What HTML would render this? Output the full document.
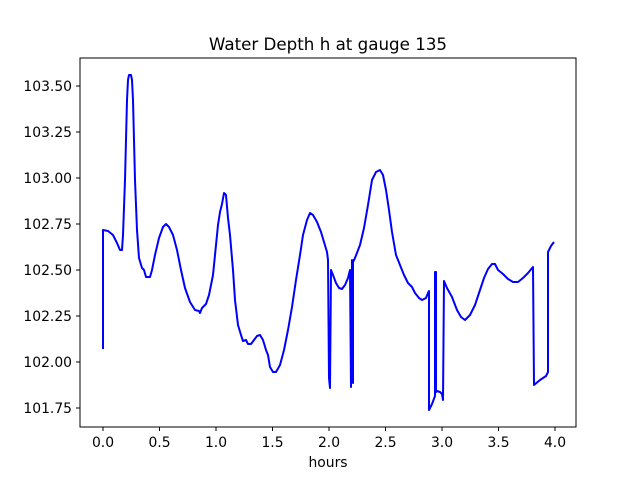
<!DOCTYPE html>
<html><head><meta charset="utf-8"><style>body{margin:0;background:#fff}</style></head><body>
<svg width="640" height="480" xmlns="http://www.w3.org/2000/svg" font-family="DejaVu Sans, Liberation Sans, sans-serif">
<rect width="640" height="480" fill="#fff"/>
<text x="328" y="50" font-size="16.7" text-anchor="middle">Water Depth h at gauge 135</text>
<polyline fill="none" stroke="#0000ff" stroke-width="2" stroke-linejoin="round" points="103,349 103,230 108,231 113,235 117,243 120,250 122,250 123,235 125,180 127,100 128,80 129,75 131,75 132,80 133,100 135,180 137,230 139,258 142,268 144,270 146,277 150,277 152,270 155,255 159,238 163,227 166,224 169,227 173,235 177,250 181,270 185,288 190,302 195,310 199,311 200,313 202,308 206,304 209,295 213,275 216,245 218,225 220,212 222,204 224,193 226,195 228,218 230,235 233,270 235,300 238,325 241,335 243,341 246,340 248,344 251,344 254,340 257,336 260,335 263,340 266,350 268,355 270,367 273,372 276,372 280,365 284,350 288,330 292,307 296,280 300,255 303,235 307,220 310,213 313,215 317,222 321,232 324,242 327,252 328,260 329,378 330,388 331,270 333,275 336,283 339,288 342,289 345,285 348,278 350,270 351,387 352,260 353,383 353,262 355,258 360,245 364,228 368,205 372,180 376,172 380,170 383,175 386,190 389,210 392,232 396,255 400,265 404,275 408,283 412,287 415,293 419,298 422,300 426,298 428,293 429,291 429,410 432,404 435,396 435,272 436,272 436,392 437,391 440,392 442,394 443,400 444,281 447,288 452,297 457,310 461,317 465,320 470,315 475,305 480,290 484,278 488,269 492,264 495,264 498,270 503,274 508,279 513,282 518,282 523,278 528,273 533,267 534,385 540,380 546,376 548,372 548,252 551,246 554,242"/>
<rect x="80" y="58" width="496" height="369" fill="none" stroke="#000" stroke-width="1"/>
<g stroke="#000" stroke-width="1">
<line x1="103" y1="427" x2="103" y2="431"/><line x1="159.5" y1="427" x2="159.5" y2="431"/><line x1="216" y1="427" x2="216" y2="431"/><line x1="272.5" y1="427" x2="272.5" y2="431"/><line x1="329" y1="427" x2="329" y2="431"/><line x1="385.5" y1="427" x2="385.5" y2="431"/><line x1="442" y1="427" x2="442" y2="431"/><line x1="498.5" y1="427" x2="498.5" y2="431"/><line x1="555" y1="427" x2="555" y2="431"/>
<line x1="76" y1="86" x2="80" y2="86"/><line x1="76" y1="132" x2="80" y2="132"/><line x1="76" y1="178" x2="80" y2="178"/><line x1="76" y1="224" x2="80" y2="224"/><line x1="76" y1="270" x2="80" y2="270"/><line x1="76" y1="316" x2="80" y2="316"/><line x1="76" y1="362" x2="80" y2="362"/><line x1="76" y1="408" x2="80" y2="408"/>
</g>
<g font-size="13.9" text-anchor="middle">
<text x="103" y="447">0.0</text><text x="159.5" y="447">0.5</text><text x="216" y="447">1.0</text><text x="272.5" y="447">1.5</text><text x="329" y="447">2.0</text><text x="385.5" y="447">2.5</text><text x="442" y="447">3.0</text><text x="498.5" y="447">3.5</text><text x="555" y="447">4.0</text>
<text x="328" y="467">hours</text>
</g>
<g font-size="13.9" text-anchor="end">
<text x="72" y="91">103.50</text><text x="72" y="137">103.25</text><text x="72" y="183">103.00</text><text x="72" y="229">102.75</text><text x="72" y="275">102.50</text><text x="72" y="321">102.25</text><text x="72" y="367">102.00</text><text x="72" y="413">101.75</text>
</g>
</svg>
</body></html>
